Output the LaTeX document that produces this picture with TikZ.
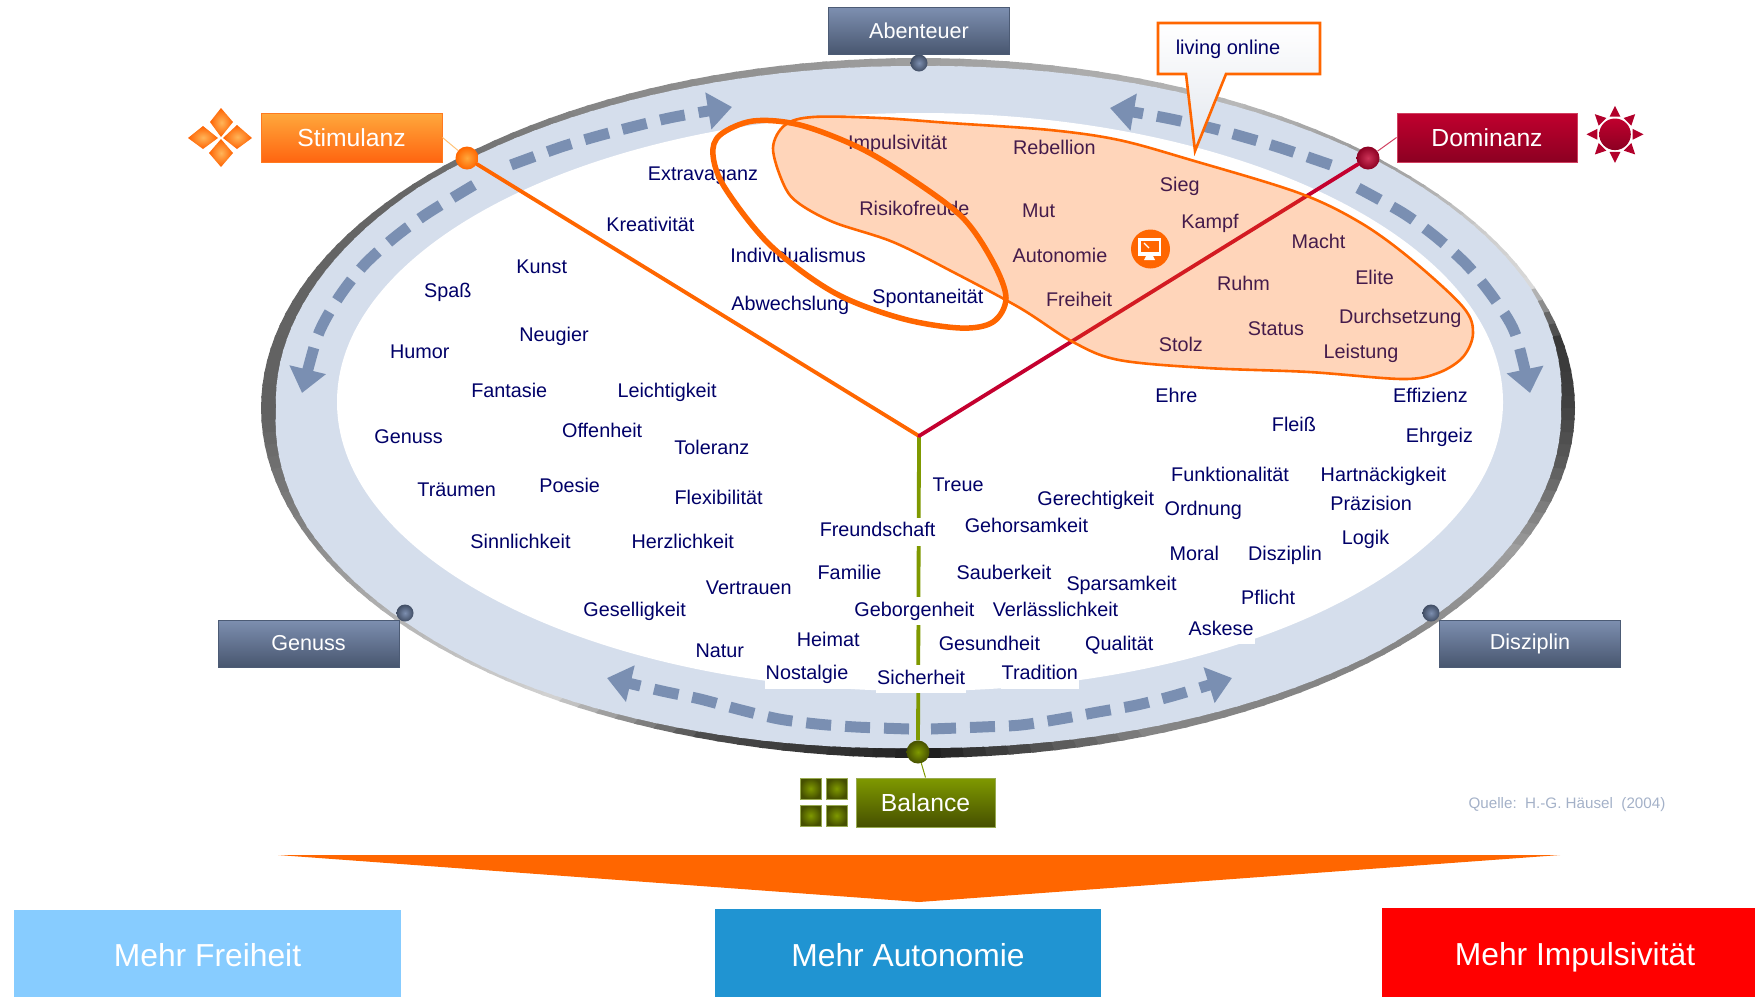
\documentclass[tikz,border=0pt]{standalone}
\usepackage{fontspec}
\setmainfont{Liberation Sans}
\usetikzlibrary{arrows.meta,shapes.geometric}
\definecolor{navy}{HTML}{000068}
\definecolor{ringblue}{HTML}{D5DEEC}
\definecolor{dashblue}{HTML}{7A8FB2}
\definecolor{hot}{HTML}{FF6600}
\definecolor{redl}{HTML}{C4002F}
\definecolor{greenl}{HTML}{7F9900}
\definecolor{HFb}{HTML}{87CCFF}
\definecolor{HAb}{HTML}{2094D2}
\tikzset{
  lab/.style={font=\fontsize{19.8}{22}\selectfont,text=navy,inner sep=0pt,text height=14pt,text depth=4pt},
  labw/.style={lab,fill=white,inner xsep=1pt,minimum height=28pt},
  boxbase/.style={font=\fontsize{21.6}{24}\selectfont,text=white,inner sep=0pt,line width=1pt},
  greybox/.style={boxbase,top color=HGt,bottom color=HGb,draw=HGd,minimum width=181pt,minimum height=47pt},
  orangebox/.style={boxbase,font=\fontsize{24.7}{27}\selectfont,top color=HOt,bottom color=HOb,draw=HOd,minimum width=181pt,minimum height=49pt},
  redbox/.style={boxbase,font=\fontsize{24.7}{27}\selectfont,top color=HRt,bottom color=HRb,draw=HRd,minimum width=180pt,minimum height=49pt},
  greenbox/.style={boxbase,font=\fontsize{24.7}{27}\selectfont,top color=HVt,bottom color=HVb,draw=HVd,minimum width=139pt,minimum height=49pt},
  bigbox/.style={font=\fontsize{31.8}{34}\selectfont,text=white,inner sep=0pt,text height=26pt,text depth=0pt},
  dotg/.style={circle,inner sep=0pt,minimum size=17pt,inner color=HGt,outer color=HGb!90!black},
  doto/.style={circle,inner sep=0pt,minimum size=23pt,inner color=HOt,outer color=hot},
  dotr/.style={circle,inner sep=0pt,minimum size=23pt,inner color=HRt!80!white,outer color=HRb},
  dotv/.style={circle,inner sep=0pt,minimum size=23pt,inner color=HVt,outer color=HVb},
  flow/.style={draw=dashblue,line width=11pt,dash pattern=on 25pt off 14pt,-{Triangle[length=24pt,width=36pt]}},
  thinlink/.style={line width=1pt},
  spoke/.style={line width=3.8pt},
  diam/.style={inner color=HOt!85!white,outer color=hot!95!red},
}
\definecolor{HGt}{HTML}{7D8FB0}\definecolor{HGb}{HTML}{48566F}\definecolor{HGd}{HTML}{4C5B75}
\definecolor{HOt}{HTML}{FFA83C}\definecolor{HOb}{HTML}{FF6510}\definecolor{HOd}{HTML}{FF7A20}
\definecolor{HRt}{HTML}{C0002E}\definecolor{HRb}{HTML}{8C0022}\definecolor{HRd}{HTML}{D04060}
\definecolor{HVt}{HTML}{7F9900}\definecolor{HVb}{HTML}{465000}\definecolor{HVd}{HTML}{98AA50}
\newcommand\lab[4]{\node[lab] (#1) at ({#2*1.1193},{#3*1.1193+2.2}) {#4};}
\newcommand\labw[4]{\node[labw] (#1) at ({#2*1.1193},{#3*1.1193+2.2}) {#4};}
\begin{document}
\begin{tikzpicture}[x=1pt,y=-1pt]
\useasboundingbox (0,0) rectangle (1755,997);
% rim with varying grey: from angle, to angle, grey % at both ends
\foreach \a/\b/\ga/\gb in {
 -180/-160/38/52,-160/-145/52/70,-145/-125/70/82,-125/-110/82/30,-110/-90/30/12,-90/-70/12/52,-70/-45/52/52,-45/-25/52/62,-25/-10/62/35,-10/0/35/25,
 0/10/25/22,10/14/22/40,14/20/40/85,20/30/85/80,30/45/80/60,45/60/60/72,60/90/72/62,90/120/62/52,120/140/52/40,140/180/40/38}{
  \pgfmathtruncatemacro\n{max(1,round((\b-\a)/2))}
  \foreach \i in {1,...,\n}{
    \pgfmathsetmacro\tA{\a+(\b-\a)*(\i-1)/\n}
    \pgfmathsetmacro\tB{\a+(\b-\a)*\i/\n+0.4}
    \pgfmathsetmacro\g{\ga+(\gb-\ga)*(\i-1)/\n}
    \fill[white!\g!black] (918,408) -- ({918+657*cos(\tA)},{408-350*sin(\tA)}) -- ({918+657*cos(\tB)},{408-350*sin(\tB)}) -- cycle;
  }
}
% ring: outer ellipse less a varying rim thickness
\foreach \a/\b/\da/\db in {
 -180/-160/15/6,-160/-130/6/3,-130/-90/3/10,-90/-45/10/6,-45/-20/6/10,-20/0/10/14,0/20/14/4,20/45/4/3,45/90/3/8,90/140/8/6,140/180/6/15}{
  \pgfmathtruncatemacro\n{max(1,round((\b-\a)/2))}
  \foreach \i in {1,...,\n}{
    \pgfmathsetmacro\tA{\a+(\b-\a)*(\i-1)/\n}
    \pgfmathsetmacro\tB{\a+(\b-\a)*\i/\n+0.4}
    \pgfmathsetmacro\dA{\da+(\db-\da)*(\i-1)/\n}
    \pgfmathsetmacro\dB{\da+(\db-\da)*(\i)/\n}
    \fill[ringblue] (918,408) -- ({918+(657-\dA)*cos(\tA)},{408-(350-\dA)*sin(\tA)}) -- ({918+(657-\dB)*cos(\tB)},{408-(350-\dB)*sin(\tB)}) -- cycle;
  }
}
\fill[white] (920,402) ellipse [x radius=583pt,y radius=289pt];
% flow arrows
\draw[flow] plot[smooth] coordinates {(511,165) (561,147) (598,136) (636,126) (674,117) (732,107)};
\draw[flow] plot[smooth] coordinates {(474,185) (428,213) (395,237) (364,265) (339,297) (318,335) (302,393)};
\draw[flow] plot[smooth] coordinates {(1331,165) (1281,148) (1244,137) (1211,128) (1166,118) (1110,108)};
\draw[flow] plot[smooth] coordinates {(1358,188) (1403,213) (1436,237) (1467,265) (1493,297) (1515,333) (1530,393)};
\draw[flow] plot[smooth] coordinates {(909,729) (856,727) (817,724) (779,719) (741,710) (700,699) (662,691) (607,678)};
\draw[flow] plot[smooth] coordinates {(931,729) (982,727) (1021,725) (1060,719) (1098,712) (1137,705) (1176,695) (1232,678)};
% dots
\node[doto] (stimdot) at (467,158) {};
\node[dotr] (domdot) at (1368,158) {};
\node[dotv] (baldot) at (918,752) {};
\node[dotg] (abdot) at (919,63) {};
\node[dotg] (gendot) at (405,613) {};
\node[dotg] (disdot) at (1431,613) {};
\coordinate (hub) at (919,436);
% spokes
\draw[spoke,greenl] (hub) -- (baldot);
\draw[spoke,hot,line cap=round] (stimdot) -- (hub);
\draw[spoke,redl,line cap=round] (domdot) -- (hub);
% boxes
\node[greybox] (abbox) at (919,31) {Abenteuer};
\node[greybox] (genbox) at (308.5,643.5) {Genuss};
\node[greybox] (disbox) at (1530,643.5) {Disziplin};
\node[orangebox] (stimbox) at (351.5,137.5) {Stimulanz};
\node[redbox] (dombox) at (1487,137.5) {Dominanz};
\node[greenbox] (balbox) at (925.5,802.5) {Balance};
\draw[thinlink,HOt!70!white] (stimbox.east) -- (stimdot);
\draw[thinlink,HRd] (dombox.west) -- (domdot);
\draw[thinlink,greenl] (balbox.north) -- (baldot);
% labels
\lab{impuls}{802}{127}{Impulsivität}
\lab{rebell}{942}{132}{Rebellion}
\lab{extra}{628}{155}{Extravaganz}
\lab{risiko}{817}{186}{Risikofreude}
\lab{mut}{928}{188}{Mut}
\lab{sieg}{1054}{165}{Sieg}
\lab{kampf}{1081}{198}{Kampf}
\lab{kreativ}{581}{200}{Kreativität}
\lab{macht}{1178}{216}{Macht}
\lab{indiv}{713}{228}{Individualismus}
\lab{auton}{947}{228}{Autonomie}
\lab{kunst}{484}{238}{Kunst}
\lab{ruhm}{1111}{253}{Ruhm}
\lab{elite}{1228}{248}{Elite}
\lab{spass}{400}{259}{Spaß}
\lab{abw}{706}{271}{Abwechslung}
\lab{spont}{829}{265}{Spontaneität}
\lab{freih}{964}{267}{Freiheit}
\lab{durch}{1251}{283}{Durchsetzung}
\lab{status}{1140}{293}{Status}
\lab{neug}{495}{299}{Neugier}
\lab{stolz}{1055}{308}{Stolz}
\lab{leist}{1216}{314}{Leistung}
\lab{humor}{375}{314}{Humor}
\lab{fant}{455}{349}{Fantasie}
\lab{leicht}{596}{349}{Leichtigkeit}
\lab{ehre}{1051}{353}{Ehre}
\lab{effiz}{1278}{353}{Effizienz}
\lab{fleiss}{1156}{379}{Fleiß}
\lab{offen}{538}{384}{Offenheit}
\lab{genuss}{365}{390}{Genuss}
\lab{ehrg}{1286}{389}{Ehrgeiz}
\lab{toler}{636}{400}{Toleranz}
\lab{funkt}{1099}{424}{Funktionalität}
\lab{hartn}{1236}{424}{Hartnäckigkeit}
\lab{treue}{856}{433}{Treue}
\lab{traeum}{408}{437}{Träumen}
\lab{poesie}{509}{434}{Poesie}
\lab{flex}{642}{444}{Flexibilität}
\lab{gerecht}{979}{445}{Gerechtigkeit}
\lab{ordn}{1075}{454}{Ordnung}
\lab{praez}{1225}{450}{Präzision}
\labw{freund}{784}{473}{Freundschaft}
\lab{gehors}{917}{469}{Gehorsamkeit}
\lab{sinnl}{465}{484}{Sinnlichkeit}
\lab{herzl}{610}{484}{Herzlichkeit}
\lab{logik}{1220}{480}{Logik}
\lab{moral}{1067}{494}{Moral}
\lab{diszi}{1148}{494}{Disziplin}
\lab{sauber}{897}{511}{Sauberkeit}
\lab{famil}{759}{511}{Familie}
\lab{sparsam}{1002}{521}{Sparsamkeit}
\lab{vertr}{669}{525}{Vertrauen}
\lab{pflicht}{1133}{534}{Pflicht}
\lab{gesell}{567}{544}{Geselligkeit}
\labw{geborg}{817}{544}{Geborgenheit}
\lab{verl}{943}{544}{Verlässlichkeit}
\labw{askese}{1091}{561}{Askese}
\lab{heimat}{740}{571}{Heimat}
\lab{gesund}{884}{575}{Gesundheit}
\lab{qual}{1000}{575}{Qualität}
\lab{natur}{643}{581}{Natur}
\labw{nostal}{721}{601}{Nostalgie}
\labw{sicher}{823}{605}{Sicherheit}
\labw{tradit}{929}{601}{Tradition}
% blob
\path[fill=hot,fill opacity=.27,draw=hot,draw opacity=1,line width=2.6pt] plot[smooth cycle,tension=.55] coordinates {
 (773,148) (785,125) (813,117) (880,118) (950,123) (1050,130) (1119,140) (1191,160) (1299,193) (1361,223) (1412,260) (1463,307) (1473,333) (1463,357) (1438,373) (1402,379) (1309,372) (1207,368) (1119,360) (1073,342) (1020,308) (953,272) (893,242) (833,222) (797,202) (783,183)};
% thick ellipse
\draw[hot,line width=5.5pt] plot[smooth cycle,tension=.55] coordinates {
 (713,155) (720,135) (753,121) (800,125) (860,148) (913,180) (963,218) (993,262) (1006,298) (993,322) (960,328) (900,318) (833,292) (770,245) (725,188)};
% monitor icon
\node[circle,fill=hot,minimum size=39pt,inner sep=0pt] (moncirc) at (1150.5,249) {};
\fill[white] (1138,238) rectangle (1161,256);
\fill[hot] (1141,241) rectangle (1159,252);
\fill[white] (1146,256) -- (1153,256) -- (1155,260) -- (1144,260) -- cycle;
\draw[white,line width=1.2pt] (1144,243) -- (1149,248);
% callout
\path[top color=white,bottom color=HGt!22!white,draw=hot,line width=2.6pt,miter limit=10]
  (1158,23) -- (1320,23) -- (1320,74) -- (1226,74) -- (1195,151) -- (1186,74) -- (1158,74) -- cycle;
\node[font=\fontsize{20}{22}\selectfont,text=navy,inner sep=0pt] (living) at (1228,49) {living online};
% stimulanz icon
\shade[diam] (221,108) -- (233,122) -- (221,137) -- (210,122) -- cycle;
\shade[diam] (223,138) -- (237,125) -- (252,138) -- (237,149) -- cycle;
\shade[diam] (221,139) -- (233,153) -- (221,167) -- (209,153) -- cycle;
\shade[diam] (218,138) -- (203,126) -- (188,138) -- (203,149) -- cycle;
% sun icon
\begin{scope}[shift={(1615,134.3)}]
\shade[top color=HRt,bottom color=HRb] (0,0) circle (15.8pt);
\foreach \a in {0,45,...,315}{
  \fill[HRt!93!black] (\a:28.5) -- (\a+17:18.5) -- (\a-17:18.5) -- cycle;
}
\end{scope}
% balance icon
\foreach \xa/\ya/\xb/\yb in {800/778/821/799,826/778/847/799,800/805/821/826,826/805/847/826}{
  \shade[inner color=HVt,outer color=HVb] (\xa,\ya) rectangle (\xb,\yb);
  \draw[HVd,line width=.8pt] (\xa,\ya) rectangle (\xb,\yb);
}
% source
\node[font=\fontsize{15.2}{17}\selectfont,text=HGt!70!white,inner sep=0pt] (quelle) at (1567,805) {Quelle:\ \ H.-G.\ Häusel\ \ (2004)};
% big wedge
\fill[hot] (278,855) -- (1560,855) -- (919,902) -- cycle;
% bottom boxes
\node[bigbox,fill=HFb,minimum width=387pt,minimum height=87pt] (mf) at (207.5,953.5) {Mehr Freiheit};
\node[bigbox,fill=HAb,minimum width=386pt,minimum height=88pt] (ma) at (908,953) {Mehr Autonomie};
\node[bigbox,fill=red,minimum width=373pt,minimum height=89pt] (mi) at (1568.5,952.5) {\hspace*{13pt}Mehr Impulsivität};
\end{tikzpicture}
\end{document}
